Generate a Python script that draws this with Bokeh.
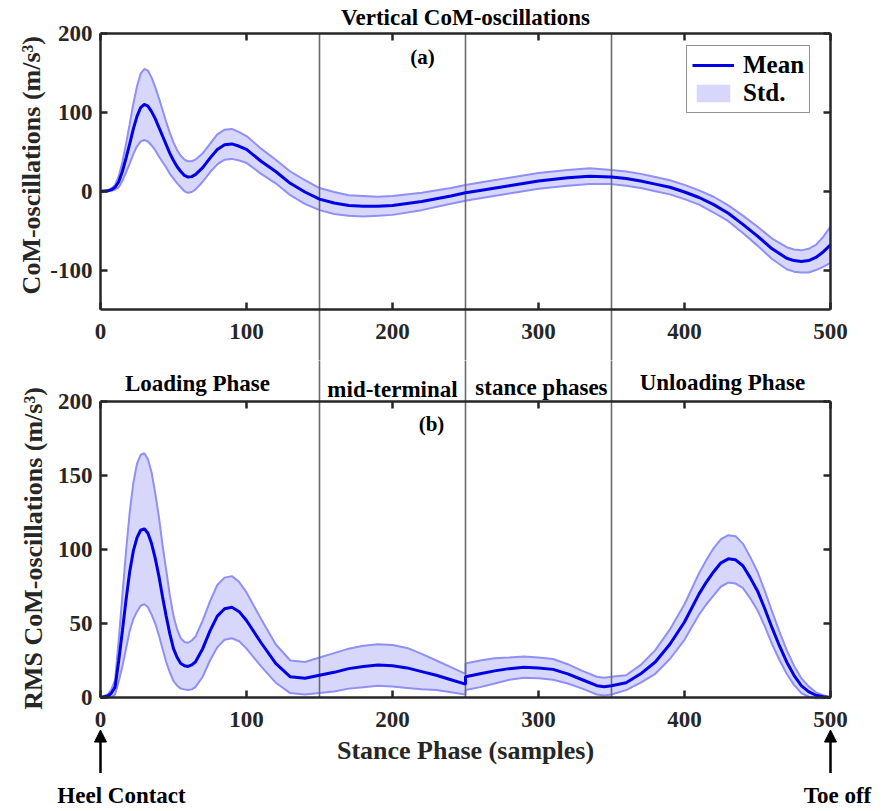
import numpy as np
from bokeh.plotting import figure
from bokeh.models import (LinearAxis, FixedTicker, Range1d, Legend, LegendItem,
                          Arrow, NormalHead)
from bokeh.layouts import column
from bokeh.core.properties import value
from bokeh.embed import file_html
from bokeh.resources import INLINE

# ---------------- data ----------------
samples_a = [0, 5, 7.5, 10, 12.5, 15, 17.5, 20, 22.5, 25, 27.5, 30, 32.5, 35,
             37.5, 40, 42.5, 45, 47.5, 50, 52.5, 55, 57.5, 60, 62.5, 65,
             70, 75, 80, 85, 90, 95,
             100, 110, 120, 130, 140, 150, 160, 170, 180, 190,
             200, 220, 240, 250, 260, 280, 300, 320, 335, 350,
             360, 370, 380, 390, 400, 410, 420, 430, 440, 450,
             460, 470, 475, 480, 485, 490, 495, 500]
mean_a = [0, 0.5, 2, 5, 12, 25, 42, 60, 79, 95, 106, 110, 108, 101,
          92, 81, 70, 59, 48, 39, 31, 25, 20, 18, 18.5, 21,
          30, 42, 53, 59, 60, 57,
          53, 38, 25, 10, -1, -10, -15, -18, -19, -19,
          -18, -13, -6, -2, 1, 7, 13, 17, 19, 18,
          16, 13, 9, 5, -1, -8, -17, -28, -42, -57,
          -73, -85, -88, -89, -88, -84, -77, -68]
std_a = [0, 0.5, 1.5, 3, 7, 12, 18, 25, 32, 38, 43, 45, 45, 43,
         40, 37, 33, 29, 26, 23, 21, 20, 20, 20, 19.5, 19,
         18, 18, 19, 19, 19, 18,
         17, 16, 15, 15, 15, 14, 14, 13, 13, 12,
         12, 11, 10, 10, 10, 10, 10, 10, 10, 9,
         9, 9, 9, 9, 9, 9, 10, 10, 11, 12,
         13, 14, 14, 14, 15, 16, 19, 23]

samples_b = [0, 5, 7.5, 10, 12.5, 15, 17.5, 20, 22.5, 25, 27.5, 30, 32.5, 35,
             37.5, 40, 42.5, 45, 47.5, 50, 52.5, 55, 57.5, 60, 62.5, 65,
             70, 75, 80, 85, 90, 95,
             100, 110, 120, 130, 140, 150, 160, 170, 180, 190,
             200, 210, 220, 230, 240, 250,
             250, 260, 270, 280, 290, 300, 310, 320, 330, 340,
             345, 350, 360, 370, 380, 390, 400, 410, 415, 420, 425,
             430, 435, 440, 445, 450, 455, 460, 465, 470, 475, 480,
             485, 490, 495, 500]
mean_b = [0, 1, 3, 7, 25, 45, 66, 85, 99, 108, 113, 114, 111, 104,
          94, 82, 68, 55, 43, 33, 27, 23, 21.5, 21, 22, 24,
          33, 45, 55, 60, 61, 58,
          52, 37, 23, 14, 13, 15, 17, 19.5, 21, 22,
          21.5, 20, 17.5, 15, 12, 9,
          14, 16, 18, 19.5, 20.5, 20, 19, 16, 12, 8,
          7.3, 8, 10, 16, 24, 36, 51, 70, 78, 85, 91,
          93.7, 93, 89, 81, 72, 60, 47, 35, 24, 15, 8,
          4, 1.5, 0.5, 0]
std_b = [0, 1, 2.5, 5, 14, 24, 33, 40, 46, 50, 51, 51, 50, 48,
         44, 40, 35, 31, 26, 22, 19, 17, 16, 16, 16.5, 17,
         19, 20, 21, 21, 21, 20,
         19, 16, 13, 11, 11, 12, 13, 13.5, 14, 14,
         14, 13.5, 12, 10, 8.5, 7,
         9, 9, 8.5, 7.5, 7.2, 7, 7, 6.5, 6, 6,
         6, 6, 5, 6, 8, 10, 12, 14, 15, 16, 16,
         16, 16, 15, 14, 13, 12, 11, 9.5, 8, 6.5, 5,
         3.5, 2, 1, 0]

phase_bounds = [150, 250, 350]
phase_names = ["Loading Phase", "mid-terminal", "stance phases", "Unloading Phase"]
event_samples = [0, 500]
event_names = ["Heel Contact", "Toe off"]
x_ticks = [0, 100, 200, 300, 400, 500]
y_ticks_a = [-100, 0, 100, 200]
y_ticks_b = [0, 50, 100, 150, 200]

# ---------------- style ----------------
FONT = "Liberation Serif"
AX = "#262626"
TXT = "#000000"
BAND = "#d7d7fb"
EDGE = "#8f8ff6"
MEAN = "#0000e6"
VLINE = "#6a6a6a"

W = 880
H_A = 360
H_B = 450
X_RANGE = (-68.49, 534.25)


def add_box_axes(p, xb, yb, xt, yt):
    common = dict(axis_line_width=2.5, axis_line_color=AX,
                  major_tick_line_width=2.5, major_tick_line_color=AX,
                  major_tick_in=7, major_tick_out=0,
                  minor_tick_line_color=None,
                  major_label_text_font=FONT,
                  major_label_text_font_size="23px",
                  major_label_text_font_style="bold",
                  major_label_text_color=AX)
    left = LinearAxis(fixed_location=xb[0], bounds=yb, major_label_standoff=8,
                      ticker=FixedTicker(ticks=yt),
                      major_label_overrides={t: str(t) for t in yt}, **common)
    right = LinearAxis(fixed_location=xb[1], bounds=yb, major_label_standoff=8,
                       ticker=FixedTicker(ticks=yt),
                       major_label_overrides={t: "" for t in yt}, **common)
    below = LinearAxis(fixed_location=yb[0], bounds=xb, major_label_standoff=14,
                       ticker=FixedTicker(ticks=xt), **common)
    above = LinearAxis(fixed_location=yb[1], bounds=xb, major_label_standoff=8,
                       ticker=FixedTicker(ticks=xt),
                       major_label_overrides={t: "" for t in xt}, **common)
    p.add_layout(left, "left")
    p.add_layout(right, "right")
    p.add_layout(below, "below")
    p.add_layout(above, "above")


def base_fig(h, yr):
    p = figure(width=W, height=h, output_backend="svg", toolbar_location=None,
               x_axis_type=None, y_axis_type=None,
               x_range=Range1d(*X_RANGE), y_range=Range1d(*yr),
               min_border=0, min_border_left=0, min_border_right=0,
               min_border_top=0, min_border_bottom=0,
               outline_line_color=None, background_fill_color="white",
               border_fill_color="white")
    return p


def txt(p, x, y, s, size="23px", angle=0.0, color=TXT):
    p.text(x=[x], y=[y], text=[s], text_font=value(FONT), text_font_size=size,
           text_font_style="bold", text_align="center", text_baseline="middle",
           text_color=color, angle=angle)


# ---------------- panel (a) ----------------
xa = np.array(samples_a, dtype=float)
ma = np.array(mean_a, dtype=float)
sa = np.array(std_a, dtype=float)
YA = (-214.67, 241.85)
pa = base_fig(H_A, YA)

band_a = pa.varea(x=xa, y1=ma - sa, y2=ma + sa, fill_color=BAND, fill_alpha=1.0)
pa.line(xa, ma + sa, line_color=EDGE, line_width=2)
pa.line(xa, ma - sa, line_color=EDGE, line_width=2)
pa.segment(x0=phase_bounds, y0=[200] * 3, x1=phase_bounds, y1=[YA[0] - 5] * 3,
           line_color=VLINE, line_width=1.6)
mean_a_r = pa.line(xa, ma, line_color=MEAN, line_width=3)

add_box_axes(pa, (0, 500), (-150, 200), x_ticks, y_ticks_a)

txt(pa, 250, 220.6, "Vertical CoM-oscillations", size="23px")
txt(pa, 220.5, 169.9, "(a)", size="21px")
txt(pa, -47.3, 33, "CoM-oscillations (m/s³)", size="26px", angle=np.pi / 2, color=AX)

legend = Legend(items=[LegendItem(label="Mean", renderers=[mean_a_r]),
                       LegendItem(label="Std.", renderers=[band_a])],
                location=(686, 247), orientation="vertical",
                border_line_color=AX, border_line_width=1.5,
                background_fill_color="white", background_fill_alpha=1.0,
                label_text_font=FONT, label_text_font_size="25px",
                label_text_font_style="bold", label_text_color="#000000",
                glyph_width=42, glyph_height=22, label_height=22,
                spacing=0, padding=5, margin=0, label_standoff=9)
pa.add_layout(legend)

# ---------------- panel (b) ----------------
xb_ = np.array(samples_b, dtype=float)
mb = np.array(mean_b, dtype=float)
sb = np.array(std_b, dtype=float)
YB = (-76.35, 227.70)
pb = base_fig(H_B, YB)

pb.varea(x=xb_, y1=mb - sb, y2=mb + sb, fill_color=BAND, fill_alpha=1.0)
pb.line(xb_, mb + sb, line_color=EDGE, line_width=2)
pb.line(xb_, mb - sb, line_color=EDGE, line_width=2)
pb.segment(x0=phase_bounds, y0=[YB[1] + 5] * 3, x1=phase_bounds, y1=[0] * 3,
           line_color=VLINE, line_width=1.6)
pb.line(xb_, mb, line_color=MEAN, line_width=3)

add_box_axes(pb, (0, 500), (0, 200), x_ticks, y_ticks_b)

label_pos = [(66.4, 212.2), (200.0, 208.1), (302.0, 209.5), (426.0, 212.8)]
for (lx, ly), name in zip(label_pos, phase_names):
    txt(pb, lx, ly, name, size="23px")
txt(pb, 226.7, 185.1, "(b)", size="21px")
txt(pb, -45.9, 100.7, "RMS CoM-oscillations (m/s³)", size="26px", angle=np.pi / 2, color=AX)
txt(pb, 250, -35.8, "Stance Phase (samples)", size="26px", color=AX)

event_label_x = [14.4, 504.8]
for ex, lx, name in zip(event_samples, event_label_x, event_names):
    pb.add_layout(Arrow(end=NormalHead(size=12, fill_color="#000000", line_color="#000000"),
                        x_start=ex, y_start=-51, x_end=ex, y_end=-22,
                        line_width=2.5, line_color="#000000"))
    txt(pb, lx, -66.2, name, size="23px")

layout = column(pa, pb, spacing=0)
open("out.html", "w").write(file_html(layout, INLINE))
